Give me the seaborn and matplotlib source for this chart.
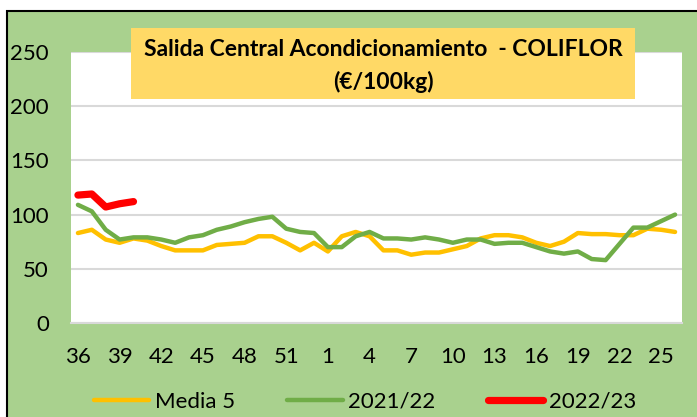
import numpy as np
import pandas as pd
import matplotlib
matplotlib.use("Agg")
import matplotlib.pyplot as plt
import seaborn as sns
from matplotlib.patches import Rectangle

sns.set_theme(style="white")
plt.rcParams['font.family'] = ['Lato', 'DejaVu Sans']
plt.rcParams['text.color'] = "black"

# ==============================
# DATA
# ==============================
weeks = list(range(36, 54)) + list(range(1, 27))

media5 = [83, 86, 77, 74, 78, 76, 71, 67, 67, 67, 72, 73, 74, 80, 80, 74, 67, 74,
          66, 80, 84, 80, 67, 67, 63, 65, 65, 68, 71, 78, 81, 81, 79, 74, 71, 75,
          83, 82, 82, 81, 81, 87, 86, 84]

s2021_22 = [109, 103, 86, 77, 79, 79, 77, 74, 79, 81, 86, 89, 93, 96, 98, 87, 84, 83,
            70, 70, 80, 84, 78, 78, 77, 79, 77, 74, 77, 77, 73, 74, 74, 70, 66, 64,
            66, 59, 58, 73, 88, 88, 94, 100]

s2022_23 = [118, 119, 107, 110, 112]

tick_labels = [str(w) for w in weeks]

# ==============================
# FIGURE
# ==============================
W, H = 697, 417
fig = plt.figure(figsize=(W / 100, H / 100), dpi=100)
fig.patch.set_facecolor("white")

# green chart area with black border on top/left (rest is cropped)
bg = Rectangle((7 / W, -0.1), 1.2, (H - 11) / H + 0.1, transform=fig.transFigure,
               facecolor="#A9D18E", edgecolor="black", lw=1.5, zorder=-10)
fig.patches.append(bg)

ax = fig.add_axes([71 / W, (H - 323) / H, 611 / W, 271 / H])
ax.set_facecolor("white")

x_idx = np.arange(len(weeks))
sns.lineplot(x=x_idx, y=media5, ax=ax, color="#FFC000", lw=3.2,
             label="Media 5", solid_capstyle="round", solid_joinstyle="round")
sns.lineplot(x=x_idx, y=s2021_22, ax=ax, color="#70AD47", lw=3.2,
             label="2021/22", solid_capstyle="round", solid_joinstyle="round")
sns.lineplot(x=x_idx[:len(s2022_23)], y=s2022_23, ax=ax, color="#FF0000", lw=5.2,
             label="2022/23", solid_capstyle="round", solid_joinstyle="round")

ax.set_xlim(-0.5, len(weeks) - 0.5)
ax.set_ylim(0, 250)
ax.set_yticks(range(0, 251, 50))
ax.set_xticks(x_idx[::3])
ax.set_xticklabels(tick_labels[::3])
ax.tick_params(axis="both", length=0, labelsize=16, colors="black")
ax.tick_params(axis="y", pad=16)
ax.tick_params(axis="x", pad=17)
ax.grid(axis="y", color="#D9D9D9", lw=1.5)
ax.set_axisbelow(True)
for s in ["top", "left", "right"]:
    ax.spines[s].set_visible(False)
ax.spines["bottom"].set_color("#D9D9D9")
ax.spines["bottom"].set_linewidth(1.5)

# legend below the plot
ax.legend(loc="center", bbox_to_anchor=(365 / W, (H - 402) / H),
          bbox_transform=fig.transFigure, ncol=3, frameon=False, fontsize=16,
          handlelength=2.5, handletextpad=0.25, columnspacing=2.35)

# title box
box = Rectangle((131 / W, (H - 99) / H), 504 / W, 71 / H, transform=fig.transFigure,
                facecolor="#FFD966", edgecolor="none", zorder=5)
fig.patches.append(box)
fig.text(383 / W, (H - 50) / H, "Salida Central Acondicionamiento  - COLIFLOR",
         ha="center", va="center", fontsize=16.5, fontweight="bold", zorder=6)
fig.text(383 / W, (H - 82) / H, "(€/100kg)",
         ha="center", va="center", fontsize=16.5, fontweight="bold", zorder=6)

fig.savefig("out.png", dpi=100)
